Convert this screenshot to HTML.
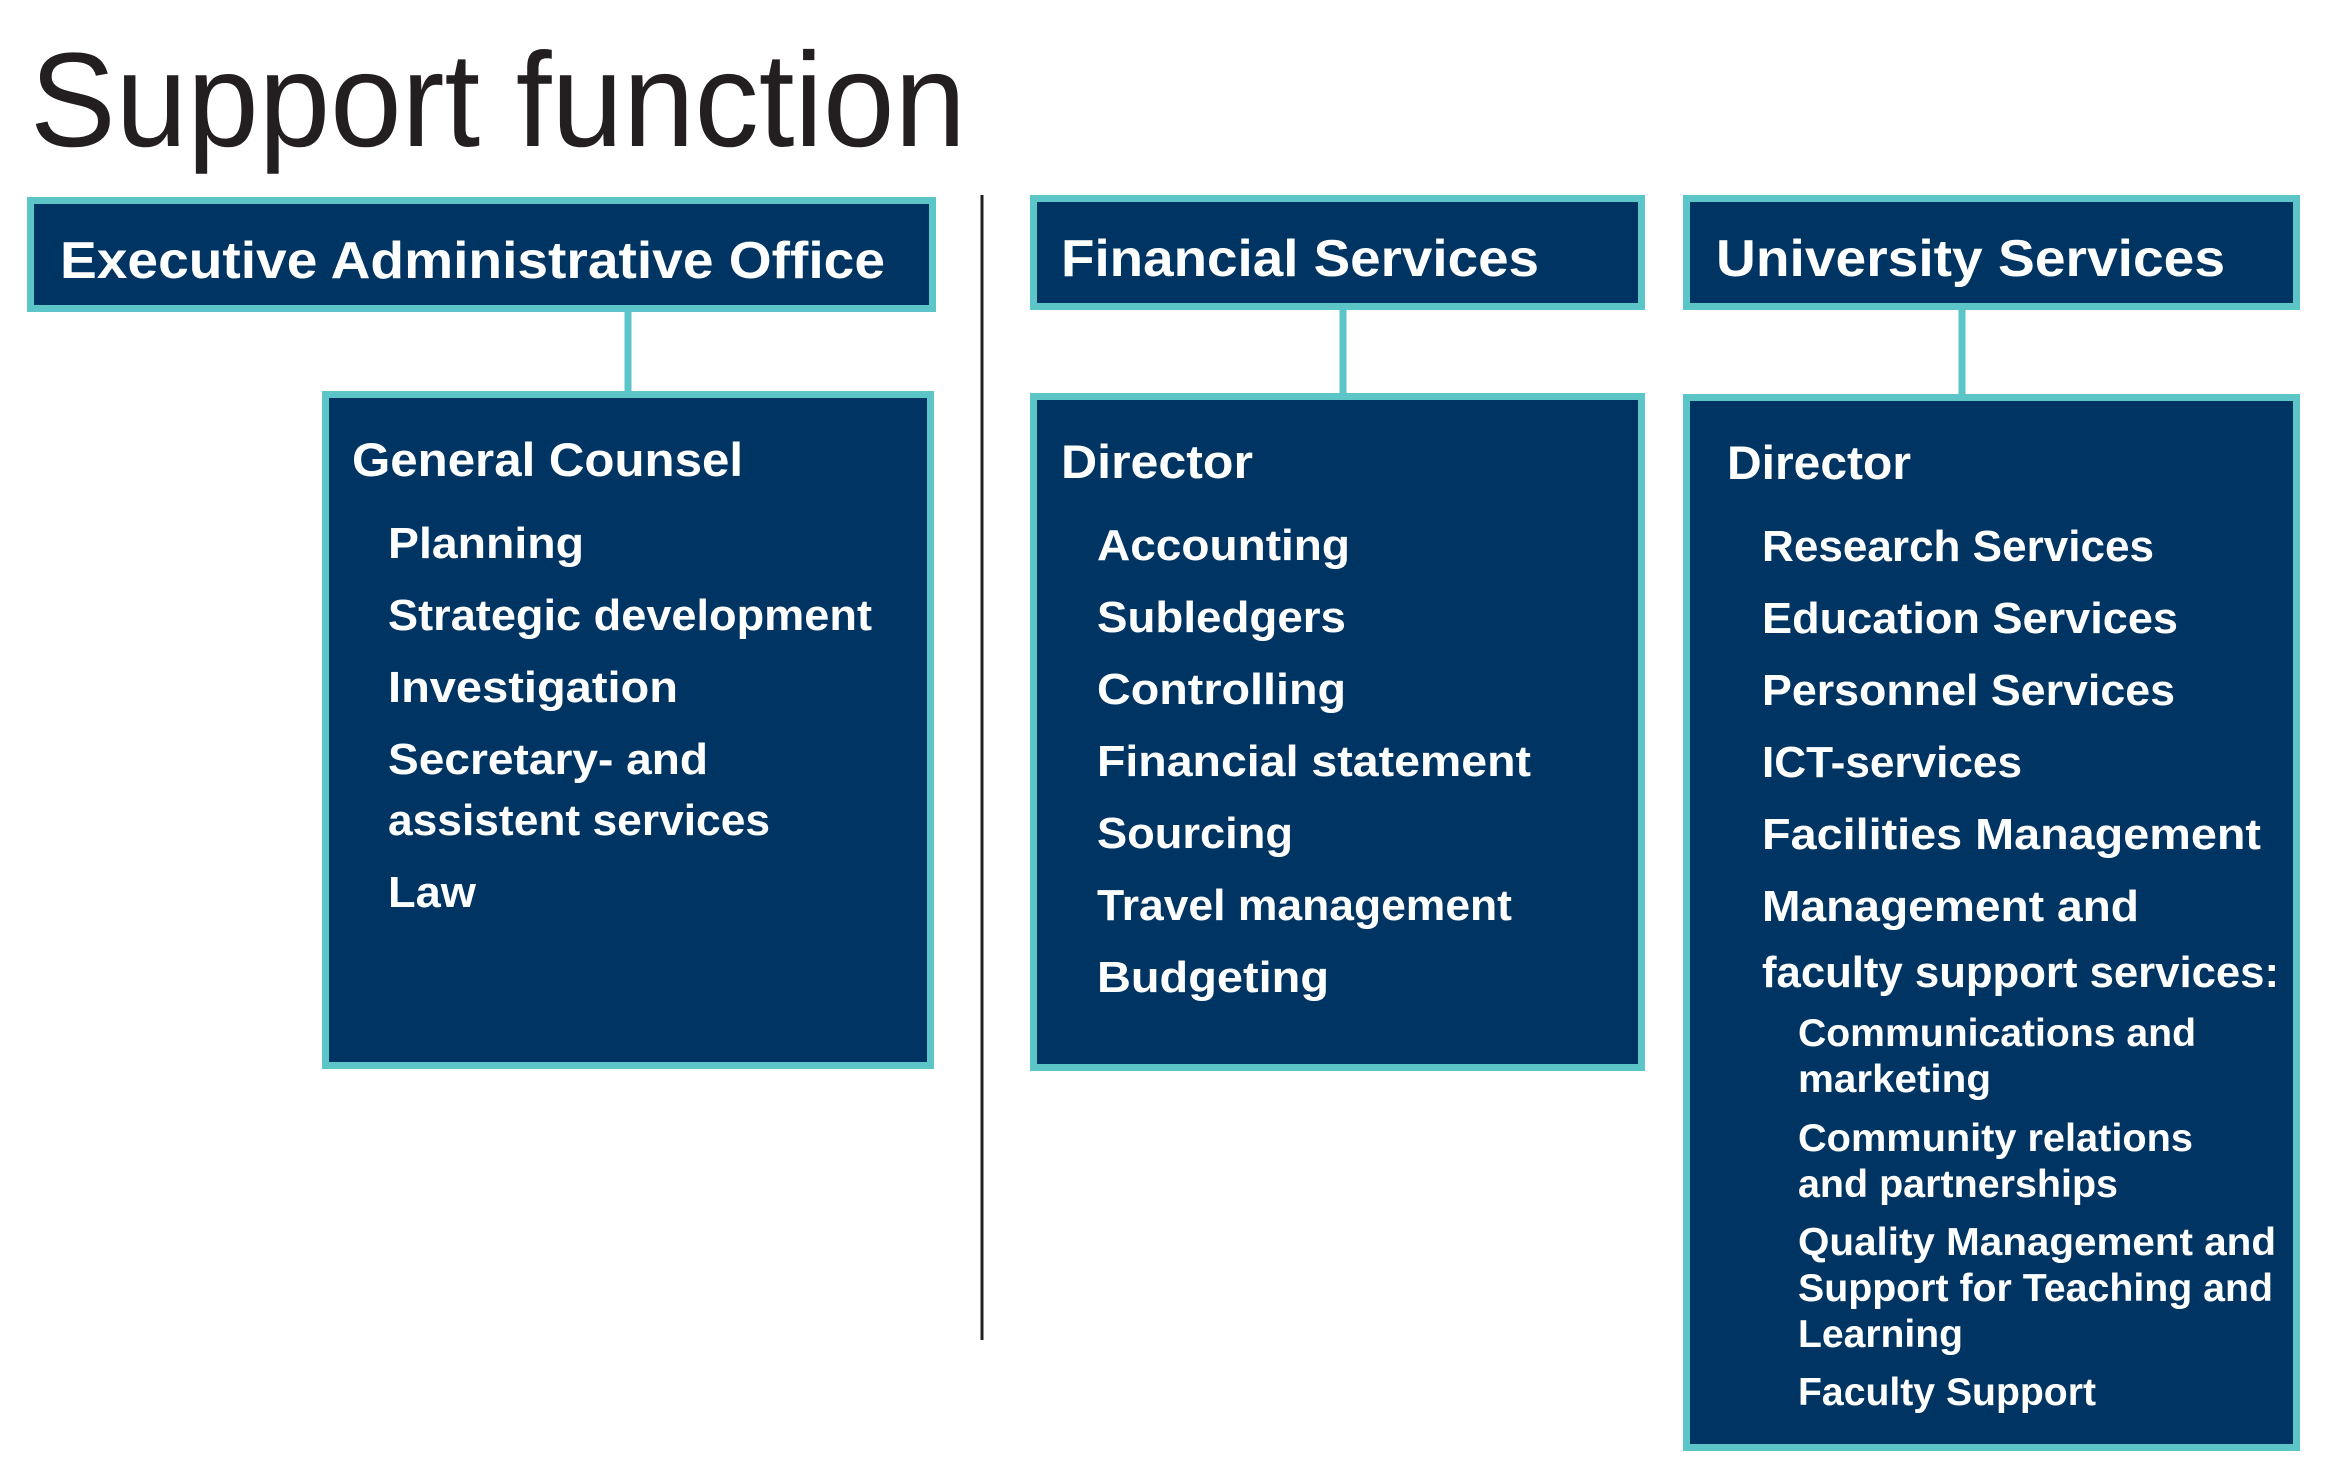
<!DOCTYPE html>
<html><head><meta charset="utf-8"><style>
html,body{margin:0;padding:0;background:#fff;}
svg{display:block;}
text{font-family:"Liberation Sans",sans-serif;fill:#fff;font-weight:bold;}
</style></head><body>
<svg width="2335" height="1469" viewBox="0 0 2335 1469" xmlns="http://www.w3.org/2000/svg">
<g transform="translate(0,-4)">
<text x="30" y="150" font-size="134" font-weight="normal" style="fill:#231f20;font-weight:300" textLength="936" lengthAdjust="spacingAndGlyphs">Support function</text>
<line x1="982" y1="199" x2="982" y2="1344" stroke="#231f20" stroke-width="3"/>
<g>
<rect x="30.5" y="204.5" width="902" height="108" fill="#003462" stroke="#5bc5c8" stroke-width="7"/>
<rect x="325.5" y="398.5" width="605" height="671" fill="#003462" stroke="#5bc5c8" stroke-width="7"/>
<line x1="628" y1="316" x2="628" y2="395" stroke="#5bc5c8" stroke-width="7"/>
<text x="60" y="282" font-size="52" textLength="825" lengthAdjust="spacingAndGlyphs">Executive Administrative Office</text>
<text x="352" y="480" font-size="47" textLength="391" lengthAdjust="spacingAndGlyphs">General Counsel</text>
<g font-size="44">
<text x="388" y="562" textLength="196" lengthAdjust="spacingAndGlyphs">Planning</text>
<text x="388" y="634" textLength="484" lengthAdjust="spacingAndGlyphs">Strategic development</text>
<text x="388" y="706" textLength="290" lengthAdjust="spacingAndGlyphs">Investigation</text>
<text x="388" y="778" textLength="320" lengthAdjust="spacingAndGlyphs">Secretary- and</text>
<text x="388" y="839" textLength="382" lengthAdjust="spacingAndGlyphs">assistent services</text>
<text x="388" y="911" textLength="88" lengthAdjust="spacingAndGlyphs">Law</text>
</g>
</g>
<g transform="translate(-6,0)">
<rect x="1039.5" y="202.5" width="608" height="108" fill="#003462" stroke="#5bc5c8" stroke-width="7"/>
<rect x="1039.5" y="400.5" width="608" height="671" fill="#003462" stroke="#5bc5c8" stroke-width="7"/>
<line x1="1349" y1="314" x2="1349" y2="397" stroke="#5bc5c8" stroke-width="7"/>
<text x="1067" y="280" font-size="52" textLength="478" lengthAdjust="spacingAndGlyphs">Financial Services</text>
<text x="1067" y="482" font-size="47" textLength="192" lengthAdjust="spacingAndGlyphs">Director</text>
<g font-size="44">
<text x="1103" y="564" textLength="253" lengthAdjust="spacingAndGlyphs">Accounting</text>
<text x="1103" y="636" textLength="249" lengthAdjust="spacingAndGlyphs">Subledgers</text>
<text x="1103" y="708" textLength="249" lengthAdjust="spacingAndGlyphs">Controlling</text>
<text x="1103" y="780" textLength="434" lengthAdjust="spacingAndGlyphs">Financial statement</text>
<text x="1103" y="852" textLength="196" lengthAdjust="spacingAndGlyphs">Sourcing</text>
<text x="1103" y="924" textLength="415" lengthAdjust="spacingAndGlyphs">Travel management</text>
<text x="1103" y="996" textLength="232" lengthAdjust="spacingAndGlyphs">Budgeting</text>
</g>
</g>
<g transform="translate(-10,0)">
<rect x="1696.5" y="202.5" width="610" height="108" fill="#003462" stroke="#5bc5c8" stroke-width="7"/>
<rect x="1696.5" y="401.5" width="610" height="1050" fill="#003462" stroke="#5bc5c8" stroke-width="7"/>
<line x1="1972" y1="314" x2="1972" y2="398" stroke="#5bc5c8" stroke-width="7"/>
<text x="1726" y="280" font-size="52" textLength="509" lengthAdjust="spacingAndGlyphs">University Services</text>
<text x="1737" y="483" font-size="47" textLength="184" lengthAdjust="spacingAndGlyphs">Director</text>
<g font-size="44">
<text x="1772" y="565" textLength="392" lengthAdjust="spacingAndGlyphs">Research Services</text>
<text x="1772" y="637" textLength="416" lengthAdjust="spacingAndGlyphs">Education Services</text>
<text x="1772" y="709" textLength="413" lengthAdjust="spacingAndGlyphs">Personnel Services</text>
<text x="1772" y="781" textLength="260" lengthAdjust="spacingAndGlyphs">ICT-services</text>
<text x="1772" y="853" textLength="499" lengthAdjust="spacingAndGlyphs">Facilities Management</text>
<text x="1772" y="925" textLength="377" lengthAdjust="spacingAndGlyphs">Management and</text>
<text x="1772" y="991" textLength="517" lengthAdjust="spacingAndGlyphs">faculty support services:</text>
</g>
<g font-size="39">
<text x="1808" y="1050" textLength="398" lengthAdjust="spacingAndGlyphs">Communications and</text>
<text x="1808" y="1096" textLength="193" lengthAdjust="spacingAndGlyphs">marketing</text>
<text x="1808" y="1155" textLength="395" lengthAdjust="spacingAndGlyphs">Community relations</text>
<text x="1808" y="1201" textLength="320" lengthAdjust="spacingAndGlyphs">and partnerships</text>
<text x="1808" y="1259" textLength="478" lengthAdjust="spacingAndGlyphs">Quality Management and</text>
<text x="1808" y="1305" textLength="475" lengthAdjust="spacingAndGlyphs">Support for Teaching and</text>
<text x="1808" y="1351" textLength="165" lengthAdjust="spacingAndGlyphs">Learning</text>
<text x="1808" y="1409" textLength="298" lengthAdjust="spacingAndGlyphs">Faculty Support</text>
</g>
</g>
</g>
</svg>
</body></html>
